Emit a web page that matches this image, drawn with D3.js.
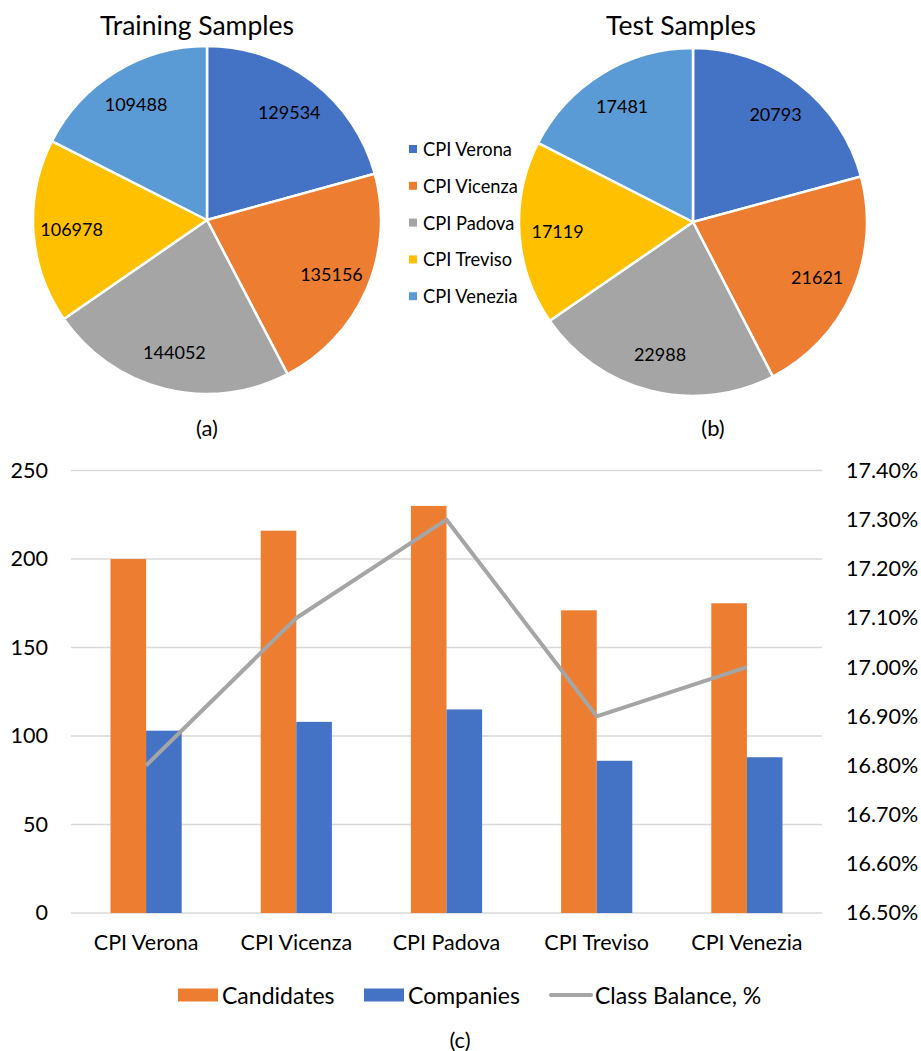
<!DOCTYPE html>
<html>
<head>
<meta charset="utf-8">
<script src="https://cdn.jsdelivr.net/npm/d3@7/dist/d3.min.js"></script>
<style>
  html, body { margin: 0; padding: 0; background: #fff; }
  svg { display: block; font-family: Lato, "Open Sans", "DejaVu Sans", sans-serif; }
</style>
</head>
<body>
<svg id="chart" width="921" height="1051"></svg>
<script>
// Regions and their sample counts
const regions = ["CPI Verona", "CPI Vicenza", "CPI Padova", "CPI Treviso", "CPI Venezia"];
const trainSamples = [129534, 135156, 144052, 106978, 109488];
const testSamples = [20793, 21621, 22988, 17119, 17481];

// Per-region counts and class balance
const candidates = [200, 216, 230, 171, 175];
const companies = [103, 108, 115, 86, 88];
const classBalance = [16.80, 17.10, 17.30, 16.90, 17.00];

// Axis ticks
const countTicks = [0, 50, 100, 150, 200, 250];
const balanceTicks = [16.5, 16.6, 16.7, 16.8, 16.9, 17.0, 17.1, 17.2, 17.3, 17.4];

const regionColors = ["#4472c4", "#ed7d31", "#a5a5a5", "#ffc000", "#5b9bd5"];
const colCandidates = "#ed7d31";
const colCompanies = "#4472c4";
const colBalance = "#a5a5a5";

const svg = d3.select("#chart");

// ---------- Pie charts ----------
const pie = d3.pie().sort(null).value(d => d);
const R = 174;
const arc = d3.arc().innerRadius(0).outerRadius(R);
const labelArc = d3.arc().innerRadius(R * 0.78).outerRadius(R * 0.78);

function drawPie(values, cx, cy, title, titleX, caption, captionX) {
  const g = svg.append("g").attr("transform", `translate(${cx},${cy})`);
  const arcs = pie(values);
  g.selectAll("path").data(arcs).join("path")
    .attr("d", arc)
    .attr("fill", (d, i) => regionColors[i])
    .attr("stroke", "#fff")
    .attr("stroke-width", 2.5)
    .attr("stroke-linejoin", "round");
  g.selectAll("text").data(arcs).join("text")
    .attr("transform", d => `translate(${labelArc.centroid(d)})`)
    .attr("text-anchor", "middle")
    .attr("dominant-baseline", "central")
    .attr("font-size", 18)
    .attr("fill", "#000")
    .text(d => d.data);

  svg.append("text")
    .attr("x", titleX).attr("y", 25)
    .attr("text-anchor", "middle").attr("dominant-baseline", "central")
    .attr("font-size", 26.5).attr("fill", "#000")
    .text(title);
  svg.append("text")
    .attr("x", captionX).attr("y", 427)
    .attr("text-anchor", "middle").attr("dominant-baseline", "central")
    .attr("font-size", 22).attr("fill", "#000")
    .text(caption);
}

drawPie(trainSamples, 207, 220, "Training Samples", 197, "(a)", 207);
drawPie(testSamples, 693, 222, "Test Samples", 681, "(b)", 713);

// Shared legend for the pies
const pieLegend = svg.append("g").attr("transform", "translate(409,149)");
regions.forEach((r, i) => {
  const row = pieLegend.append("g").attr("transform", `translate(0,${i * 36.8})`);
  row.append("rect").attr("x", 0).attr("y", -4).attr("width", 8).attr("height", 8)
    .attr("fill", regionColors[i]);
  row.append("text").attr("x", 14).attr("y", 0)
    .attr("dominant-baseline", "central")
    .attr("font-size", 18.3).attr("fill", "#000")
    .text(r);
});

// ---------- Combined bar / line chart ----------
const plotLeft = 71, plotRight = 822, plotTop = 470.5, plotBottom = 913;

const x = d3.scaleBand().domain(regions).range([plotLeft, plotRight]).padding(0);
const groupW = x.bandwidth() * 0.474;
const xSeries = d3.scaleBand().domain(["Candidates", "Companies"])
  .range([(x.bandwidth() - groupW) / 2, (x.bandwidth() + groupW) / 2]).padding(0);

const yCount = d3.scaleLinear().domain([0, 250]).range([plotBottom, plotTop]);
const yBalance = d3.scaleLinear().domain([16.5, 17.4]).range([plotBottom, plotTop]);

// Gridlines
svg.append("g").selectAll("line").data(countTicks).join("line")
  .attr("x1", plotLeft).attr("x2", plotRight)
  .attr("y1", d => yCount(d)).attr("y2", d => yCount(d))
  .attr("stroke", "#d9d9d9").attr("stroke-width", 1.5);

// Bars
const barData = regions.map((r, i) => ({ region: r, Candidates: candidates[i], Companies: companies[i] }));
const groups = svg.append("g").selectAll("g").data(barData).join("g")
  .attr("transform", d => `translate(${x(d.region)},0)`);
groups.selectAll("rect")
  .data(d => [{ key: "Candidates", v: d.Candidates }, { key: "Companies", v: d.Companies }])
  .join("rect")
  .attr("x", d => xSeries(d.key))
  .attr("width", xSeries.bandwidth())
  .attr("y", d => yCount(d.v))
  .attr("height", d => yCount(0) - yCount(d.v))
  .attr("fill", d => d.key === "Candidates" ? colCandidates : colCompanies);

// Class balance line
const line = d3.line()
  .x((d, i) => x(regions[i]) + x.bandwidth() / 2)
  .y(d => yBalance(d));
svg.append("path").datum(classBalance)
  .attr("d", line)
  .attr("fill", "none")
  .attr("stroke", colBalance)
  .attr("stroke-width", 4)
  .attr("stroke-linejoin", "round");

// Axes
const axisFont = 21.5;
const gLeft = svg.append("g").attr("transform", `translate(${plotLeft},0)`)
  .call(d3.axisLeft(yCount).tickValues(countTicks).tickSize(0).tickPadding(23));
const gRight = svg.append("g").attr("transform", `translate(${plotRight},0)`)
  .call(d3.axisRight(yBalance).tickValues(balanceTicks).tickSize(0).tickPadding(24)
    .tickFormat(d => d3.format(".2f")(d) + "%"));
const gBottom = svg.append("g").attr("transform", `translate(0,${plotBottom})`)
  .call(d3.axisBottom(x).tickSize(0).tickPadding(22));
[gLeft, gRight, gBottom].forEach(g => {
  g.select(".domain").remove();
  g.selectAll("text").attr("font-size", axisFont).attr("fill", "#000")
    .attr("font-family", 'Lato, "Open Sans", "DejaVu Sans", sans-serif');
});

// Legend below the chart
const legend = svg.append("g").attr("transform", "translate(0,995)");
const legendItems = [
  { label: "Candidates", type: "rect", color: colCandidates, x: 178 },
  { label: "Companies", type: "rect", color: colCompanies, x: 364 },
  { label: "Class Balance, %", type: "line", color: colBalance, x: 551 }
];
legendItems.forEach(it => {
  if (it.type === "rect") {
    legend.append("rect").attr("x", it.x).attr("y", -6.5).attr("width", 40).attr("height", 13)
      .attr("fill", it.color);
  } else {
    legend.append("line").attr("x1", it.x).attr("x2", it.x + 40).attr("y1", 0).attr("y2", 0)
      .attr("stroke", it.color).attr("stroke-width", 4).attr("stroke-linecap", "round");
  }
  legend.append("text").attr("x", it.x + 44).attr("y", 0)
    .attr("dominant-baseline", "central")
    .attr("font-size", 23).attr("fill", "#000")
    .text(it.label);
});

svg.append("text")
  .attr("x", 460).attr("y", 1039)
  .attr("text-anchor", "middle").attr("dominant-baseline", "central")
  .attr("font-size", 22).attr("fill", "#000")
  .text("(c)");
</script>
</body>
</html>
